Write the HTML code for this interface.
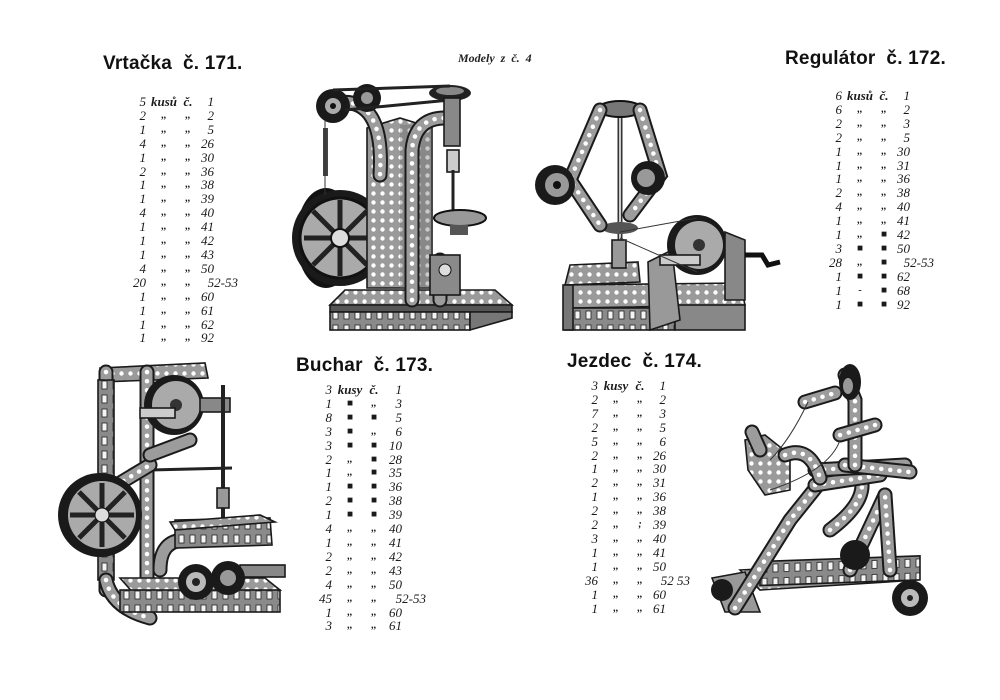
<!DOCTYPE html>
<html><head><meta charset="utf-8">
<style>
html,body{margin:0;padding:0;background:#fff;}
#pg{position:relative;width:1000px;height:700px;overflow:hidden;background:#fff;}
.h{position:absolute;font-family:"Liberation Sans",sans-serif;font-weight:bold;font-size:19px;color:#111;white-space:nowrap;letter-spacing:0.2px}
.m{position:absolute;font-family:"Liberation Serif",serif;font-style:italic;font-weight:bold;font-size:12px;color:#222;white-space:nowrap}
table.l{position:absolute;border-collapse:collapse;font-family:"Liberation Serif",serif;font-style:italic;font-size:13px;color:#1a1a1a;line-height:13.9px}
table.l td{padding:0;white-space:nowrap;height:13.9px}
td.c{text-align:right}
td.k{text-align:center;font-size:10px;font-weight:bold}
td.k.t{font-size:13px;font-weight:bold}
td.n{text-align:right}
td.n span{margin-right:-24px}
svg{position:absolute;left:0;top:0}
</style></head><body><div id="pg">

<div class="h" style="left:103px;top:53px">Vrtačka&nbsp; č. 171.</div>
<div class="m" style="left:458px;top:51px">Modely&nbsp; z&nbsp; č.&nbsp; 4</div>
<div class="h" style="left:785px;top:48px">Regulátor&nbsp; č. 172.</div>
<div class="h" style="left:296px;top:355px">Buchar&nbsp; č. 173.</div>
<div class="h" style="left:567px;top:351px">Jezdec&nbsp; č. 174.</div>

<!-- Vrtacka list -->
<table class="l" style="left:118px;top:95px">
<colgroup><col style="width:28px"><col style="width:36px"><col style="width:12px"><col style="width:20px"></colgroup>
<tr><td class="c">5</td><td class="k t">kusů</td><td class="k t">č.</td><td class="n">1</td></tr>
<tr><td class="c">2</td><td class="k">,,</td><td class="k">,,</td><td class="n">2</td></tr>
<tr><td class="c">1</td><td class="k">,,</td><td class="k">,,</td><td class="n">5</td></tr>
<tr><td class="c">4</td><td class="k">,,</td><td class="k">,,</td><td class="n">26</td></tr>
<tr><td class="c">1</td><td class="k">,,</td><td class="k">,,</td><td class="n">30</td></tr>
<tr><td class="c">2</td><td class="k">,,</td><td class="k">,,</td><td class="n">36</td></tr>
<tr><td class="c">1</td><td class="k">,,</td><td class="k">,,</td><td class="n">38</td></tr>
<tr><td class="c">1</td><td class="k">,,</td><td class="k">,,</td><td class="n">39</td></tr>
<tr><td class="c">4</td><td class="k">,,</td><td class="k">,,</td><td class="n">40</td></tr>
<tr><td class="c">1</td><td class="k">,,</td><td class="k">,,</td><td class="n">41</td></tr>
<tr><td class="c">1</td><td class="k">,,</td><td class="k">,,</td><td class="n">42</td></tr>
<tr><td class="c">1</td><td class="k">,,</td><td class="k">,,</td><td class="n">43</td></tr>
<tr><td class="c">4</td><td class="k">,,</td><td class="k">,,</td><td class="n">50</td></tr>
<tr><td class="c">20</td><td class="k">,,</td><td class="k">,,</td><td class="n"><span>52-53</span></td></tr>
<tr><td class="c">1</td><td class="k">,,</td><td class="k">,,</td><td class="n">60</td></tr>
<tr><td class="c">1</td><td class="k">,,</td><td class="k">,,</td><td class="n">61</td></tr>
<tr><td class="c">1</td><td class="k">,,</td><td class="k">,,</td><td class="n">62</td></tr>
<tr><td class="c">1</td><td class="k">,,</td><td class="k">,,</td><td class="n">92</td></tr>
</table>

<!-- Regulator list -->
<table class="l" style="left:814px;top:89px">
<colgroup><col style="width:28px"><col style="width:36px"><col style="width:12px"><col style="width:20px"></colgroup>
<tr><td class="c">6</td><td class="k t">kusů</td><td class="k t">č.</td><td class="n">1</td></tr>
<tr><td class="c">6</td><td class="k">,,</td><td class="k">,,</td><td class="n">2</td></tr>
<tr><td class="c">2</td><td class="k">,,</td><td class="k">,,</td><td class="n">3</td></tr>
<tr><td class="c">2</td><td class="k">,,</td><td class="k">,,</td><td class="n">5</td></tr>
<tr><td class="c">1</td><td class="k">,,</td><td class="k">,,</td><td class="n">30</td></tr>
<tr><td class="c">1</td><td class="k">,,</td><td class="k">,,</td><td class="n">31</td></tr>
<tr><td class="c">1</td><td class="k">,,</td><td class="k">,,</td><td class="n">36</td></tr>
<tr><td class="c">2</td><td class="k">,,</td><td class="k">,,</td><td class="n">38</td></tr>
<tr><td class="c">4</td><td class="k">,,</td><td class="k">,,</td><td class="n">40</td></tr>
<tr><td class="c">1</td><td class="k">,,</td><td class="k">,,</td><td class="n">41</td></tr>
<tr><td class="c">1</td><td class="k">,,</td><td class="k">■</td><td class="n">42</td></tr>
<tr><td class="c">3</td><td class="k">■</td><td class="k">■</td><td class="n">50</td></tr>
<tr><td class="c">28</td><td class="k">,,</td><td class="k">■</td><td class="n"><span>52-53</span></td></tr>
<tr><td class="c">1</td><td class="k">■</td><td class="k">■</td><td class="n">62</td></tr>
<tr><td class="c">1</td><td class="k">-</td><td class="k">■</td><td class="n">68</td></tr>
<tr><td class="c">1</td><td class="k">■</td><td class="k">■</td><td class="n">92</td></tr>
</table>

<!-- Buchar list -->
<table class="l" style="left:304px;top:383px">
<colgroup><col style="width:28px"><col style="width:36px"><col style="width:12px"><col style="width:22px"></colgroup>
<tr><td class="c">3</td><td class="k t">kusy</td><td class="k t">č.</td><td class="n">1</td></tr>
<tr><td class="c">1</td><td class="k">■</td><td class="k">,,</td><td class="n">3</td></tr>
<tr><td class="c">8</td><td class="k">■</td><td class="k">■</td><td class="n">5</td></tr>
<tr><td class="c">3</td><td class="k">■</td><td class="k">,,</td><td class="n">6</td></tr>
<tr><td class="c">3</td><td class="k">■</td><td class="k">■</td><td class="n">10</td></tr>
<tr><td class="c">2</td><td class="k">,,</td><td class="k">■</td><td class="n">28</td></tr>
<tr><td class="c">1</td><td class="k">,,</td><td class="k">■</td><td class="n">35</td></tr>
<tr><td class="c">1</td><td class="k">■</td><td class="k">■</td><td class="n">36</td></tr>
<tr><td class="c">2</td><td class="k">■</td><td class="k">■</td><td class="n">38</td></tr>
<tr><td class="c">1</td><td class="k">■</td><td class="k">■</td><td class="n">39</td></tr>
<tr><td class="c">4</td><td class="k">,,</td><td class="k">,,</td><td class="n">40</td></tr>
<tr><td class="c">1</td><td class="k">,,</td><td class="k">,,</td><td class="n">41</td></tr>
<tr><td class="c">2</td><td class="k">,,</td><td class="k">,,</td><td class="n">42</td></tr>
<tr><td class="c">2</td><td class="k">,,</td><td class="k">,,</td><td class="n">43</td></tr>
<tr><td class="c">4</td><td class="k">,,</td><td class="k">,,</td><td class="n">50</td></tr>
<tr><td class="c">45</td><td class="k">,,</td><td class="k">,,</td><td class="n"><span>52-53</span></td></tr>
<tr><td class="c">1</td><td class="k">,,</td><td class="k">,,</td><td class="n">60</td></tr>
<tr><td class="c">3</td><td class="k">,,</td><td class="k">,,</td><td class="n">61</td></tr>
</table>

<!-- Jezdec list -->
<table class="l" style="left:570px;top:379px">
<colgroup><col style="width:28px"><col style="width:36px"><col style="width:12px"><col style="width:20px"></colgroup>
<tr><td class="c">3</td><td class="k t">kusy</td><td class="k t">č.</td><td class="n">1</td></tr>
<tr><td class="c">2</td><td class="k">,,</td><td class="k">,,</td><td class="n">2</td></tr>
<tr><td class="c">7</td><td class="k">,,</td><td class="k">,,</td><td class="n">3</td></tr>
<tr><td class="c">2</td><td class="k">,,</td><td class="k">,,</td><td class="n">5</td></tr>
<tr><td class="c">5</td><td class="k">,,</td><td class="k">,,</td><td class="n">6</td></tr>
<tr><td class="c">2</td><td class="k">,,</td><td class="k">,,</td><td class="n">26</td></tr>
<tr><td class="c">1</td><td class="k">,,</td><td class="k">,,</td><td class="n">30</td></tr>
<tr><td class="c">2</td><td class="k">,,</td><td class="k">,,</td><td class="n">31</td></tr>
<tr><td class="c">1</td><td class="k">,,</td><td class="k">,,</td><td class="n">36</td></tr>
<tr><td class="c">2</td><td class="k">,,</td><td class="k">,,</td><td class="n">38</td></tr>
<tr><td class="c">2</td><td class="k">,,</td><td class="k">;</td><td class="n">39</td></tr>
<tr><td class="c">3</td><td class="k">,,</td><td class="k">,,</td><td class="n">40</td></tr>
<tr><td class="c">1</td><td class="k">,,</td><td class="k">,,</td><td class="n">41</td></tr>
<tr><td class="c">1</td><td class="k">,,</td><td class="k">,,</td><td class="n">50</td></tr>
<tr><td class="c">36</td><td class="k">,,</td><td class="k">,,</td><td class="n"><span>52 53</span></td></tr>
<tr><td class="c">1</td><td class="k">,,</td><td class="k">,,</td><td class="n">60</td></tr>
<tr><td class="c">1</td><td class="k">,,</td><td class="k">,,</td><td class="n">61</td></tr>
</table>

<svg width="1000" height="700" viewBox="0 0 1000 700">
<defs>
<pattern id="holes" width="9" height="9" patternUnits="userSpaceOnUse">
<rect width="9" height="9" fill="#9a9a9a"/><circle cx="4.5" cy="4.5" r="2.2" fill="#fff"/>
</pattern>
<pattern id="slots" width="11" height="14" patternUnits="userSpaceOnUse">
<rect width="11" height="14" fill="#8a8a8a"/><rect x="3" y="3" width="5" height="8" fill="#f4f4f4" stroke="#222" stroke-width="0.8"/>
</pattern>
<style>
.so{stroke:#1a1a1a;stroke-width:15;stroke-linecap:round;fill:none}
.sg{stroke:#9c9c9c;stroke-width:11;stroke-linecap:round;fill:none}
.sd{stroke:#fff;stroke-width:4.5;stroke-linecap:round;stroke-dasharray:0.1 9;fill:none}
.pl{stroke:#1a1a1a;stroke-width:1.6}
.rod{stroke:#222;stroke-width:3}
.thin{stroke:#333;stroke-width:1;fill:none}
</style>
</defs>

<!-- ===== Vrtacka 171 ===== -->
<g>
<polygon points="345,290 495,290 512,305 330,305" fill="url(#holes)" class="pl"/>
<polygon points="330,305 512,305 512,312 330,312" fill="#555" class="pl"/>
<rect x="330" y="312" width="140" height="18" fill="url(#slots)" class="pl"/>
<polygon points="470,312 512,312 512,318 470,330" fill="#777" class="pl"/>
<ellipse cx="326" cy="238" rx="30" ry="50" fill="#111"/>
<circle cx="340" cy="238" r="48" fill="#1a1a1a"/>
<circle cx="340" cy="238" r="40" fill="#aaa" stroke="#111" stroke-width="3"/>
<g stroke="#222" stroke-width="5">
<line x1="340" y1="200" x2="340" y2="276"/><line x1="304" y1="238" x2="376" y2="238"/>
<line x1="313" y1="211" x2="367" y2="265"/><line x1="313" y1="265" x2="367" y2="211"/></g>
<circle cx="340" cy="238" r="9" fill="#ddd" stroke="#111" stroke-width="2"/>
<polygon points="367,128 400,118 432,128 432,288 367,288" fill="url(#holes)" class="pl"/>
<rect x="400" y="125" width="32" height="163" fill="#666" opacity="0.35"/>
<path d="M335,103 Q385,95 380,175" class="so"/>
<path d="M335,103 Q385,95 380,175" class="sg"/><path d="M335,103 Q385,95 380,175" class="sd"/>
<path d="M412,300 L412,150 Q415,118 445,118" class="so"/>
<path d="M412,300 L412,150 Q415,118 445,118" class="sg"/><path d="M412,300 L412,150 Q415,118 445,118" class="sd"/>
<path d="M440,300 L440,260" class="so"/><path d="M440,300 L440,260" class="sg"/>
<circle cx="333" cy="106" r="17" fill="#1a1a1a"/><circle cx="333" cy="106" r="8" fill="#aaa"/><circle cx="333" cy="106" r="3" fill="#111"/>
<circle cx="367" cy="98" r="14" fill="#1a1a1a"/><circle cx="367" cy="98" r="6" fill="#999"/>
<ellipse cx="450" cy="93" rx="21" ry="8" fill="#222"/><ellipse cx="450" cy="91" rx="14" ry="4" fill="#888"/>
<line x1="333" y1="90" x2="450" y2="86" class="rod" stroke-width="2"/>
<line x1="345" y1="110" x2="450" y2="100" class="rod" stroke-width="1.5"/>
<rect x="323" y="128" width="5" height="48" fill="#444"/>
<line x1="325" y1="120" x2="325" y2="195" class="thin"/>
<rect x="444" y="98" width="16" height="48" fill="#888" class="pl"/>
<rect x="447" y="150" width="12" height="22" fill="#ccc" class="pl"/>
<line x1="453" y1="170" x2="453" y2="215" class="rod"/>
<ellipse cx="460" cy="218" rx="26" ry="8" fill="#999" stroke="#111" stroke-width="2"/>
<rect x="450" y="225" width="18" height="10" fill="#555"/>
<rect x="430" y="255" width="30" height="40" fill="#8a8a8a" class="pl"/>
<circle cx="445" cy="270" r="6" fill="#ddd" stroke="#111"/>
</g>

<!-- ===== Regulator 172 ===== -->
<g>
<polygon points="570,265 638,262 640,282 565,285" fill="url(#holes)" class="pl"/>
<polygon points="565,285 740,283 745,305 570,308" fill="url(#holes)" class="pl"/>
<rect x="565" y="308" width="110" height="22" fill="url(#slots)" class="pl"/>
<rect x="675" y="305" width="70" height="25" fill="#888" class="pl"/>
<rect x="563" y="285" width="10" height="45" fill="#777" class="pl"/>
<line x1="620" y1="110" x2="620" y2="250" stroke="#333" stroke-width="5"/>
<line x1="620" y1="110" x2="620" y2="250" stroke="#ccc" stroke-width="2"/>
<ellipse cx="620" cy="109" rx="22" ry="8" fill="#777" stroke="#111" stroke-width="2"/>
<ellipse cx="620" cy="228" rx="18" ry="6" fill="#555"/>
<rect x="612" y="240" width="14" height="28" fill="#999" class="pl"/>
<path d="M600,110 L570,180 L600,225" class="so"/><path d="M600,110 L570,180 L600,225" class="sg"/><path d="M600,110 L570,180 L600,225" class="sd"/>
<path d="M640,110 L660,175 L630,215" class="so"/><path d="M640,110 L660,175 L630,215" class="sg"/><path d="M640,110 L660,175 L630,215" class="sd"/>
<circle cx="555" cy="185" r="20" fill="#1a1a1a"/><circle cx="557" cy="185" r="12" fill="#999"/><circle cx="557" cy="185" r="4" fill="#111"/>
<circle cx="648" cy="178" r="17" fill="#1a1a1a"/><circle cx="646" cy="178" r="9" fill="#999"/>
<polygon points="648,262 672,250 680,320 650,330" fill="#999" class="pl"/>
<circle cx="697" cy="245" r="30" fill="#1a1a1a"/><circle cx="699" cy="245" r="24" fill="#aaa"/>
<circle cx="699" cy="245" r="6" fill="#333"/>
<rect x="660" y="255" width="40" height="10" fill="#ccc" class="pl"/>
<polygon points="725,232 745,240 745,300 725,300" fill="#888" class="pl"/>
<path d="M745,255 L762,255 L768,265 L780,262" stroke="#111" stroke-width="5" fill="none"/>
<line x1="620" y1="232" x2="697" y2="218" class="thin"/>
<line x1="620" y1="238" x2="697" y2="272" class="thin"/>
</g>

<!-- ===== Buchar 173 ===== -->
<g>
<polygon points="100,368 205,363 208,378 100,382" fill="url(#holes)" class="pl"/>
<path d="M106,372 L106,590" class="so"/><path d="M106,372 L106,590" class="sg"/><path d="M106,372 L106,590" class="sd"/>
<path d="M147,372 L147,580" class="so"/><path d="M147,372 L147,580" class="sg"/><path d="M147,372 L147,580" class="sd"/>
<rect x="98" y="380" width="16" height="200" fill="url(#slots)" class="pl"/>
<circle cx="174" cy="405" r="30" fill="#1a1a1a"/><circle cx="176" cy="405" r="24" fill="#aaa"/><circle cx="176" cy="405" r="6" fill="#333"/>
<rect x="140" y="408" width="35" height="10" fill="#ccc" class="pl"/>
<rect x="200" y="398" width="30" height="14" fill="#888" class="pl"/>
<line x1="223" y1="385" x2="223" y2="530" stroke="#222" stroke-width="4"/>
<rect x="217" y="488" width="12" height="20" fill="#999" class="pl"/>
<line x1="150" y1="470" x2="232" y2="468" class="rod" stroke-width="2"/>
<path d="M100,495 L150,465" class="so"/><path d="M100,495 L150,465" class="sg"/><path d="M100,495 L150,465" class="sd"/>
<path d="M150,455 L190,440" class="so"/><path d="M150,455 L190,440" class="sg"/>
<circle cx="100" cy="515" r="42" fill="#1a1a1a"/><circle cx="102" cy="515" r="34" fill="#aaa"/>
<g stroke="#222" stroke-width="5"><line x1="102" y1="483" x2="102" y2="547"/><line x1="70" y1="515" x2="134" y2="515"/>
<line x1="79" y1="492" x2="125" y2="538"/><line x1="79" y1="538" x2="125" y2="492"/></g>
<circle cx="102" cy="515" r="7" fill="#ddd" stroke="#111"/>
<path d="M106,580 Q112,608 150,618" class="so"/><path d="M106,580 Q112,608 150,618" class="sg"/><path d="M106,580 Q112,608 150,618" class="sd"/>
<path d="M160,570 Q160,540 185,540" class="so"/><path d="M160,570 Q160,540 185,540" class="sg"/>
<polygon points="120,578 265,578 280,590 135,595" fill="url(#holes)" class="pl"/>
<rect x="120" y="590" width="160" height="22" fill="url(#slots)" class="pl"/>
<polygon points="175,520 270,518 272,545 175,548" fill="url(#slots)" class="pl"/>
<polygon points="170,522 260,515 275,522 175,530" fill="url(#holes)" class="pl"/>
<rect x="240" y="565" width="45" height="12" fill="#888" class="pl"/>
<circle cx="228" cy="578" r="17" fill="#1a1a1a"/><circle cx="228" cy="578" r="8" fill="#999"/>
<circle cx="196" cy="582" r="18" fill="#1a1a1a"/><circle cx="196" cy="582" r="10" fill="#bbb"/><circle cx="196" cy="582" r="4" fill="#222"/>
</g>

<!-- ===== Jezdec 174 ===== -->
<g>
<polygon points="740,570 900,562 918,580 760,590" fill="url(#holes)" class="pl"/>
<rect x="760" y="588" width="160" height="24" fill="url(#slots)" class="pl" transform="skewY(-2)"/>
<polygon points="712,578 745,572 760,612 725,612" fill="#999" class="pl"/>
<circle cx="910" cy="598" r="18" fill="#1a1a1a"/><circle cx="910" cy="598" r="9" fill="#bbb"/><circle cx="910" cy="598" r="3" fill="#222"/>
<circle cx="722" cy="590" r="11" fill="#1a1a1a"/>
<path d="M735,608 L790,520 L830,470" class="so"/><path d="M735,608 L790,520 L830,470" class="sg"/><path d="M735,608 L790,520 L830,470" class="sd"/>
<path d="M850,570 L885,495" class="so"/><path d="M850,570 L885,495" class="sg"/><path d="M850,570 L885,495" class="sd"/>
<path d="M890,570 L885,495" class="so"/><path d="M890,570 L885,495" class="sg"/><path d="M890,570 L885,495" class="sd"/>
<path d="M830,530 Q870,500 860,475" class="so"/><path d="M830,530 Q870,500 860,475" class="sg"/><path d="M830,530 Q870,500 860,475" class="sd"/>
<circle cx="855" cy="555" r="15" fill="#1a1a1a"/>
<path d="M815,485 L880,475" class="so"/><path d="M815,485 L880,475" class="sg"/><path d="M815,485 L880,475" class="sd"/>
<path d="M815,470 L905,465" class="so"/><path d="M815,470 L905,465" class="sg"/><path d="M815,470 L905,465" class="sd"/>
<path d="M845,465 L910,472" class="so"/><path d="M845,465 L910,472" class="sg"/><path d="M845,465 L910,472" class="sd"/>
<path d="M855,465 L855,400 L845,375" class="so"/><path d="M855,465 L855,400 L845,375" class="sg"/><path d="M855,465 L855,400 L845,375" class="sd"/>
<path d="M840,435 L875,425" class="so"/><path d="M840,435 L875,425" class="sg"/><path d="M840,435 L875,425" class="sd"/>
<path d="M805,402 L835,393" class="so"/><path d="M805,402 L835,393" class="sg"/><path d="M805,402 L835,393" class="sd"/>
<ellipse cx="850" cy="382" rx="11" ry="18" fill="#1a1a1a"/><ellipse cx="848" cy="386" rx="5" ry="8" fill="#999"/>
<polygon points="745,440 765,435 790,455 790,490 765,495 748,470" fill="url(#holes)" class="pl"/>
<path d="M785,455 Q810,445 820,478" class="so"/><path d="M785,455 Q810,445 820,478" class="sg"/><path d="M785,455 Q810,445 820,478" class="sd"/>
<path d="M752,432 L760,450" class="so"/><path d="M752,432 L760,450" class="sg"/>
<path d="M808,402 Q790,440 770,460" class="thin"/>
<path d="M840,440 Q830,470 770,490" class="thin"/>
</g>
</svg>
</div></body></html>
